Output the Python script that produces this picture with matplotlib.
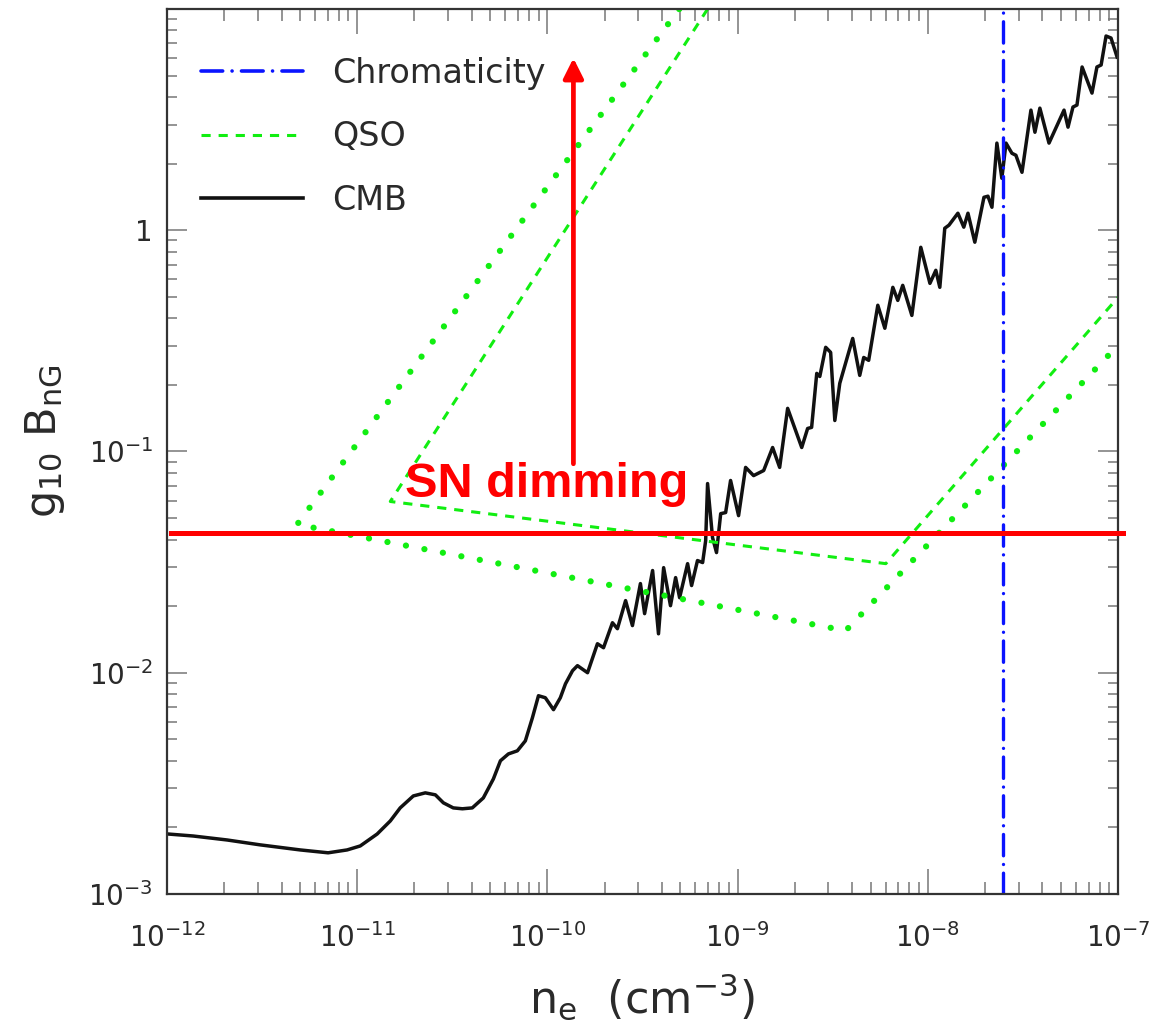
import numpy as np
import matplotlib
matplotlib.use("Agg")
import matplotlib.pyplot as plt
from matplotlib.lines import Line2D
from matplotlib.ticker import LogLocator, NullFormatter

plt.rcParams['font.family'] = ['DejaVu Sans']
plt.rcParams['mathtext.default'] = 'regular'

# ---------------- data (log10 values) ----------------
cmb_log_ne = [-11.995, -11.863, -11.684, -11.511, -11.300, -11.153, -11.053, -10.984,
              -10.895, -10.826, -10.774, -10.705, -10.642, -10.589, -10.547, -10.495,
              -10.447, -10.395, -10.337, -10.284, -10.247, -10.205, -10.158, -10.116,
              -10.079, -10.047, -10.011, -9.968, -9.932, -9.905, -9.868, -9.842,
              -9.789, -9.737, -9.705, -9.658, -9.632, -9.589, -9.553, -9.511,
              -9.489, -9.447, -9.416, -9.389, -9.353, -9.326, -9.305, -9.263, -9.242,
              -9.211, -9.184, -9.168, -9.158, -9.132, -9.111, -9.089, -9.063, -9.037,
              -8.995, -8.958, -8.916, -8.863, -8.816, -8.779, -8.737, -8.663, -8.632,
              -8.611, -8.584, -8.568, -8.537, -8.511, -8.489, -8.463, -8.395, -8.358,
              -8.337, -8.311, -8.263, -8.226, -8.184, -8.158, -8.132, -8.084, -8.037,
              -7.989, -7.958, -7.937, -7.911, -7.889, -7.842, -7.811, -7.789, -7.753,
              -7.705, -7.684, -7.663, -7.637, -7.611, -7.589, -7.558, -7.537, -7.505,
              -7.458, -7.437, -7.411, -7.363, -7.284, -7.263, -7.237, -7.216, -7.189,
              -7.137, -7.111, -7.089, -7.063, -7.037, -7.005]
cmb_log_gb = [-2.729, -2.738, -2.756, -2.778, -2.801, -2.814, -2.801, -2.783,
              -2.729, -2.670, -2.611, -2.557, -2.543, -2.552, -2.588, -2.611,
              -2.615, -2.611, -2.566, -2.480, -2.398, -2.367, -2.353, -2.308,
              -2.204, -2.104, -2.113, -2.167, -2.113, -2.050, -1.991, -1.968,
              -2.000, -1.869, -1.887, -1.774, -1.801, -1.674, -1.787, -1.597,
              -1.733, -1.538, -1.824, -1.525, -1.697, -1.570, -1.661, -1.507, -1.606,
              -1.493, -1.502, -1.403, -1.145, -1.389, -1.457, -1.281, -1.276, -1.131,
              -1.290, -1.072, -1.109, -1.086, -0.982, -1.072, -0.805, -0.982, -0.896,
              -0.891, -0.647, -0.661, -0.529, -0.552, -0.860, -0.692, -0.489, -0.656,
              -0.575, -0.588, -0.339, -0.443, -0.258, -0.317, -0.249, -0.385, -0.077,
              -0.240, -0.181, -0.258, 0.009, 0.023, 0.077, 0.014, 0.077, -0.054,
              0.149, 0.154, 0.104, 0.394, 0.235, 0.394, 0.348, 0.339, 0.262,
              0.543, 0.443, 0.552, 0.394, 0.543, 0.466, 0.557, 0.566, 0.738,
              0.620, 0.738, 0.747, 0.878, 0.869, 0.783]

qso_dashed_log_ne = [-9.158, -10.826, -8.221, -7.0]
qso_dashed_log_gb = [1.0, -1.226, -1.507, -0.303]
qso_dotted_log_ne = [-9.307, -11.316, -8.432, -7.0]
qso_dotted_log_gb = [1.0, -1.330, -1.810, -0.520]

chromaticity_ne = 2.48e-8
sn_dimming_gb = 0.043
arrow_ne = 1.37e-10
arrow_gb_from = 0.088
arrow_gb_to = 6.0
sn_text_pos = (1.79e-11, 0.062)

xtick_vals = [1e-12, 1e-11, 1e-10, 1e-9, 1e-8, 1e-7]
xtick_labels = [r'$10^{-12}$', r'$10^{-11}$', r'$10^{-10}$', r'$10^{-9}$', r'$10^{-8}$', r'$10^{-7}$']
ytick_vals = [1e-3, 1e-2, 1e-1, 1]
ytick_labels = [r'$10^{-3}$', r'$10^{-2}$', r'$10^{-1}$', '1']
legend_labels = ['Chromaticity', 'QSO', 'CMB']

# ---------------- figure ----------------
fig = plt.figure(figsize=(11.58, 10.26), dpi=100)
ax = fig.add_axes([0.1442, 0.1287, 0.8213, 0.8625])

green = '#11ee11'
blue = '#0a14ff'
ax.plot(10 ** np.array(cmb_log_ne), 10 ** np.array(cmb_log_gb), color='#111111', lw=2.5,
        solid_joinstyle='round')
ax.plot(10 ** np.array(qso_dashed_log_ne), 10 ** np.array(qso_dashed_log_gb), color=green,
        lw=2.2, linestyle=(0, (3.0, 2.6)))
ax.plot(10 ** np.array(qso_dotted_log_ne), 10 ** np.array(qso_dotted_log_gb), color=green,
        lw=4.5, linestyle=(0, (0.01, 3.0)), dash_capstyle='round')
ax.axvline(chromaticity_ne, color=blue, lw=2.4, linestyle=(0, (6.4, 2.6, 0.01, 2.6)),
           dash_capstyle='round')

ax.axhline(sn_dimming_gb, xmin=0.004, xmax=1.005, color='#ff0000', lw=3.6, clip_on=False,
           zorder=5)
ax.annotate('', xy=(arrow_ne, arrow_gb_to), xytext=(arrow_ne, arrow_gb_from),
            arrowprops=dict(arrowstyle='-|>,head_length=12,head_width=6', mutation_scale=1,
                            color='#ff0000', lw=3.4, shrinkA=0, shrinkB=0), zorder=5)
ax.text(sn_text_pos[0], sn_text_pos[1], 'SN dimming', color='#ff0000', fontsize=35,
        fontweight='bold', family='Liberation Sans', va='baseline', ha='left', zorder=6)

ax.set_xscale('log')
ax.set_yscale('log')
ax.set_xlim(1e-12, 1e-7)
ax.set_ylim(1e-3, 10)

ax.set_xticks(xtick_vals)
ax.set_xticklabels(xtick_labels)
ax.set_yticks(ytick_vals)
ax.set_yticklabels(ytick_labels)
ax.xaxis.set_minor_locator(LogLocator(base=10, subs=np.arange(2, 10), numticks=20))
ax.yaxis.set_minor_locator(LogLocator(base=10, subs=np.arange(2, 10), numticks=20))
ax.xaxis.set_minor_formatter(NullFormatter())
ax.yaxis.set_minor_formatter(NullFormatter())

tick_color = '#777777'
label_color = '#2a2a2a'
ax.tick_params(axis='x', which='major', direction='in', length=18, width=1.1,
               color=tick_color, top=True, labelsize=20, pad=21, labelcolor=label_color)
ax.tick_params(axis='x', which='minor', direction='in', length=8.6, width=1.1,
               color=tick_color, top=True)
ax.tick_params(axis='y', which='major', direction='in', length=14.4, width=1.1,
               color=tick_color, right=True, labelsize=20, pad=10, labelcolor=label_color)
ax.tick_params(axis='y', which='minor', direction='in', length=7.2, width=1.1,
               color=tick_color, right=True)
for s in ax.spines.values():
    s.set_color('#333333')
    s.set_linewidth(1.6)

ax.set_xlabel(r'$n_e\ \ (cm^{-3})$', fontsize=32, color=label_color)
ax.set_ylabel(r'$g_{10}\ B_{nG}$', fontsize=31, color=label_color)
ax.xaxis.set_label_coords(0.5, -0.088)
ax.yaxis.set_label_coords(-0.105, 0.511)

handles = [Line2D([], [], color=blue, lw=2.6, linestyle=(0, (6.0, 2.6, 0.01, 2.6)),
                  dash_capstyle='round'),
           Line2D([], [], color=green, lw=2.2, linestyle=(0, (3.0, 2.6))),
           Line2D([], [], color='#111111', lw=2.6)]
ax.legend(handles, legend_labels, loc='upper left', bbox_to_anchor=(0.0358, 0.946),
          frameon=False, fontsize=24, handlelength=3.06, handletextpad=0.87,
          labelspacing=0.915, borderpad=0, borderaxespad=0, labelcolor=label_color)

fig.savefig('out.png', dpi=100)
